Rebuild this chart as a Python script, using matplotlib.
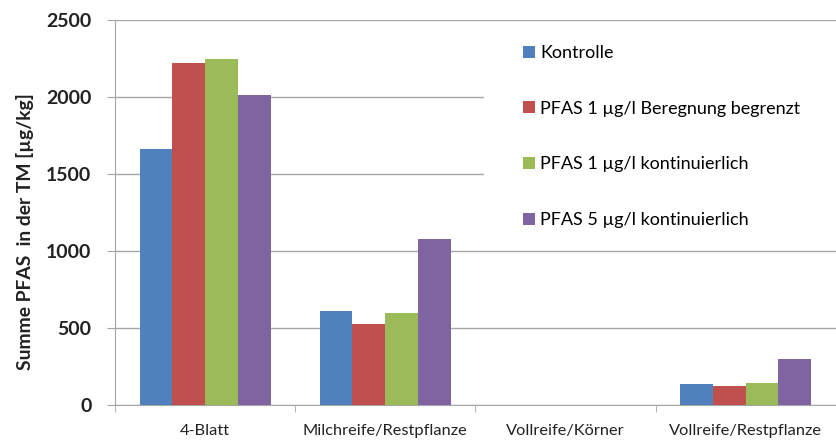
import numpy as np
import matplotlib
matplotlib.use("Agg")
import matplotlib.pyplot as plt
from matplotlib.patches import Rectangle

plt.rcParams['font.family'] = ['Lato', 'DejaVu Sans']

categories = ['4-Blatt', 'Milchreife/Restpflanze', 'Vollreife/Körner', 'Vollreife/Restpflanze']
series_names = ['Kontrolle', 'PFAS 1 µg/l Beregnung begrenzt',
                'PFAS 1 µg/l kontinuierlich', 'PFAS 5 µg/l kontinuierlich']
kontrolle = [1660, 610, 0, 136]
beregnung_begrenzt = [2220, 528, 0, 123]
pfas1_kont = [2250, 598, 0, 140]
pfas5_kont = [2010, 1075, 0, 300]
colors = ['#4f81bd', '#c0504d', '#9bbb59', '#8064a2']

values = [kontrolle, beregnung_begrenzt, pfas1_kont, pfas5_kont]

fig = plt.figure(figsize=(8.36, 4.43), dpi=100)
ax = fig.add_axes([0.1376, 0.0858, 0.862, 0.869])

x = np.arange(len(categories))
w = 0.182
for i, (vals, name, c) in enumerate(zip(values, series_names, colors)):
    ax.bar(x + (i - 1.5) * w, vals, width=w, color=c, label=name, zorder=3)

ax.set_xlim(-0.5, 3.5)
ax.set_ylim(0, 2500)
ax.set_yticks(range(0, 2501, 500))
ax.grid(axis='y', color='#a6a6a6', linewidth=1.0, zorder=0)
ax.set_axisbelow(True)

ax.set_xticks(x)
ax.set_xticklabels(categories, fontsize=11.8, color='#222222')
ax.set_xticks(np.arange(-0.5, 3.6, 1), minor=True)
ax.tick_params(axis='x', which='major', length=0, pad=14)
ax.tick_params(axis='x', which='minor', length=5, color='#a6a6a6')
ax.tick_params(axis='y', length=6, color='#a6a6a6', labelsize=14, pad=11)
for t in ax.get_yticklabels():
    t.set_fontweight('bold')
    t.set_color('#222222')

for s in ['top', 'right']:
    ax.spines[s].set_visible(False)
for s in ['left', 'bottom']:
    ax.spines[s].set_color('#a6a6a6')

ax.set_ylabel('Summe PFAS  in der TM [µg/kg]', fontsize=13.9, fontweight='bold',
              color='#222222')
ax.yaxis.set_label_coords(-0.112, 0.45)

# white box behind the legend hides the gridlines there
ax.add_patch(Rectangle((0.512, 0.44), 0.49, 0.555, transform=ax.transAxes,
                       facecolor='white', edgecolor='none', zorder=1, clip_on=False))

leg = ax.legend(loc='upper left', bbox_to_anchor=(0.566, 0.935), frameon=False,
                fontsize=13, labelspacing=2.2, handlelength=0.65, handleheight=0.65,
                handletextpad=0.3, borderpad=0.0, borderaxespad=0.0)
leg.set_zorder(5)

fig.savefig('out.png', dpi=100)
